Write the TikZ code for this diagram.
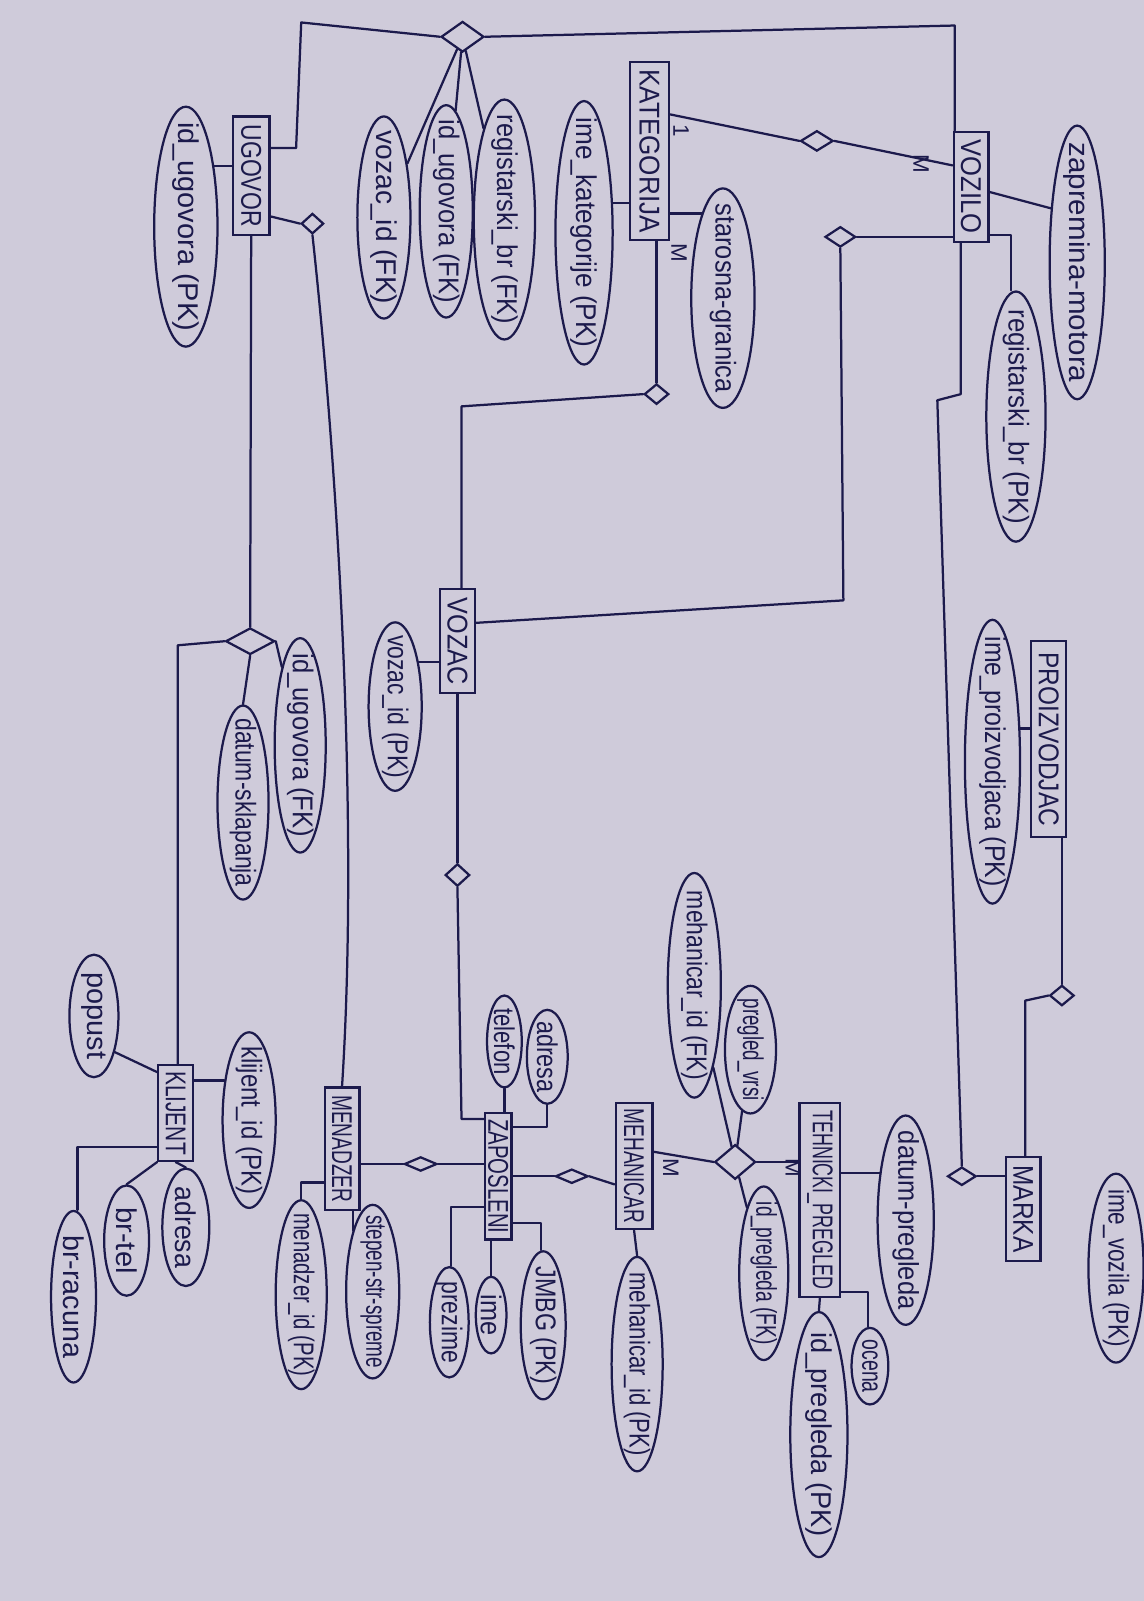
\documentclass[tikz,border=0pt]{standalone}
\usepackage{fontspec}
\setmainfont{Liberation Sans}
\usetikzlibrary{shapes.geometric}
\definecolor{paper}{HTML}{CFCBDA}
\definecolor{ink}{HTML}{1C1A4C}
\newcommand{\vt}[2]{\makebox[0pt]{\rotatebox{-90}{\makebox[0pt]{\resizebox{#1pt}{\height}{#2}}}}}
\newcommand{\vtn}[1]{\makebox[0pt]{\rotatebox{-90}{\makebox[0pt]{#1}}}}
\tikzset{
  ent/.style={draw=ink, rectangle, line width=2.2pt, inner sep=0pt, text=ink, font=\fontsize{28}{30}\selectfont},
  attr/.style={draw=ink, ellipse, line width=2.2pt, inner sep=0pt, text=ink, font=\fontsize{28}{30}\selectfont},
  rel/.style={draw=ink, diamond, line width=2.2pt, inner sep=0pt},
  card/.style={text=ink, inner sep=0pt, font=\fontsize{22}{24}\selectfont},
  conn/.style={draw=ink, line width=2.2pt, line join=round, line cap=round}
}
\begin{document}
\begin{tikzpicture}[x=1pt,y=-1pt]
\fill[paper] (0,0) rectangle (1120,1568);
\useasboundingbox (0,0) rectangle (1120,1568);

% entities
\node[ent, minimum width=36, minimum height=116] (ugovor) at (246,172) {\vt{100}{UGOVOR}};
\node[ent, minimum width=38, minimum height=174] (kategorija) at (636,148) {\vt{160}{KATEGORIJA}};
\node[ent, minimum width=34, minimum height=108] (vozilo) at (951,183) {\vt{92}{VOZILO}};
\node[ent, minimum width=34, minimum height=102] (vozac) at (448,628) {\vt{85}{VOZAC}};
\node[ent, minimum width=26, minimum height=124] (zaposleni) at (488,1152) {\vt{112}{ZAPOSLENI}};
\node[ent, minimum width=34, minimum height=120] (menadzer) at (335,1125) {\vt{105}{MENADZER}};
\node[ent, minimum width=34, minimum height=94] (klijent) at (172,1090) {\vt{82}{KLIJENT}};
\node[ent, minimum width=36, minimum height=124] (mehanicar) at (621,1142) {\vt{112}{MEHANICAR}};
\node[ent, minimum width=40, minimum height=190] (tehnicki) at (803,1175) {\vt{175}{TEHNICKI\_PREGLED}};
\node[ent, minimum width=34, minimum height=192] (proizv) at (1027,724) {\vt{170}{PROIZVODJAC}};
\node[ent, minimum width=34, minimum height=102] (marka) at (1002,1184) {\vt{85}{MARKA}};

% attributes
\node[attr, minimum width=62, minimum height=235] (a_idug_pk) at (182,222) {\vt{205}{id\_ugovora (PK)}};
\node[attr, minimum width=52, minimum height=198] (a_vozid_fk) at (376,213) {\vt{170}{vozac\_id (FK)}};
\node[attr, minimum width=52, minimum height=208] (a_idug_fk) at (437,207) {\vt{180}{id\_ugovora (FK)}};
\node[attr, minimum width=60, minimum height=235] (a_regbr_fk) at (494,215) {\vt{205}{registarski\_br (FK)}};
\node[attr, minimum width=56, minimum height=258] (a_imekat) at (572,228) {\vt{225}{ime\_kategorije (PK)}};
\node[attr, minimum width=62, minimum height=215] (a_starosna) at (708,292) {\vt{185}{starosna-granica}};
\node[attr, minimum width=54, minimum height=268] (a_zapremina) at (1055,257) {\vt{235}{zapremina-motora}};
\node[attr, minimum width=58, minimum height=245] (a_regbr_pk) at (995,408) {\vt{210}{registarski\_br (PK)}};
\node[attr, minimum width=54, minimum height=278] (a_imeproiz) at (972,746) {\vt{245}{ime\_proizvodjaca (PK)}};
\node[attr, minimum width=52, minimum height=165] (a_vozid_pk) at (387,692) {\vt{140}{vozac\_id (PK)}};
\node[attr, minimum width=50, minimum height=210] (a_idug_fk2) at (294,730) {\vt{180}{id\_ugovora (FK)}};
\node[attr, minimum width=50, minimum height=190] (a_datsk) at (238,786) {\vt{165}{datum-sklapanja}};
\node[attr, minimum width=48, minimum height=120] (a_popust) at (92,995) {\vt{85}{popust}};
\node[attr, minimum width=52, minimum height=172] (a_klijid) at (244,1097) {\vt{145}{klijent\_id (PK)}};
\node[attr, minimum width=46, minimum height=115] (a_adresa_k) at (182,1202) {\vt{80}{adresa}};
\node[attr, minimum width=44, minimum height=108] (a_brtel) at (124,1215) {\vt{65}{br-tel}};
\node[attr, minimum width=44, minimum height=168] (a_brrac) at (72,1270) {\vt{120}{br-racuna}};
\node[attr, minimum width=50, minimum height=185] (a_menid) at (295,1268) {\vt{160}{menadzer\_id (PK)}};
\node[attr, minimum width=52, minimum height=170] (a_stepen) at (365,1265) {\vt{150}{stepen-str-spreme}};
\node[attr, minimum width=34, minimum height=90] (a_telefon) at (494,1020) {\vt{65}{telefon}};
\node[attr, minimum width=40, minimum height=92] (a_adresa_z) at (536,1035) {\vt{70}{adresa}};
\node[attr, minimum width=44, minimum height=145] (a_jmbg) at (532,1298) {\vt{115}{JMBG (PK)}};
\node[attr, minimum width=30, minimum height=75] (a_ime) at (481,1288) {\vt{40}{ime}};
\node[attr, minimum width=38, minimum height=108] (a_prezime) at (440,1295) {\vt{80}{prezime}};
\node[attr, minimum width=50, minimum height=210] (a_mehid_pk) at (624,1336) {\vt{180}{mehanicar\_id (PK)}};
\node[attr, minimum width=52, minimum height=220] (a_mehid_fk) at (680,965) {\vt{185}{mehanicar\_id (FK)}};
\node[attr, minimum width=50, minimum height=125] (a_pregvrsi) at (735,1028) {\vt{100}{pregled\_vrsi}};
\node[attr, minimum width=48, minimum height=170] (a_idpr_fk) at (748,1247) {\vt{140}{id\_pregleda (FK)}};
\node[attr, minimum width=55, minimum height=205] (a_datpr) at (887,1195) {\vt{175}{datum-pregleda}};
\node[attr, minimum width=36, minimum height=75] (a_ocena) at (852,1338) {\vt{52}{ocena}};
\node[attr, minimum width=56, minimum height=240] (a_idpr_pk) at (802,1405) {\vt{200}{id\_pregleda (PK)}};
\node[attr, minimum width=54, minimum height=185] (a_imevoz) at (1093,1242) {\vt{155}{ime\_vozila (PK)}};

% relationships
\node[rel, minimum width=42, minimum height=30] (dtop) at (453,36) {};
\node[rel, minimum width=22, minimum height=20] (dug) at (306,219) {};
\node[rel, minimum width=32, minimum height=20] (dkv) at (800,138) {};
\node[rel, minimum width=24, minimum height=20] (dkz) at (643,386) {};
\node[rel, minimum width=30, minimum height=20] (dvv) at (823,232) {};
\node[rel, minimum width=48, minimum height=26] (dkl) at (245,628) {};
\node[rel, minimum width=24, minimum height=22] (dvz) at (448,857) {};
\node[rel, minimum width=32, minimum height=14] (dzm) at (412,1140) {};
\node[rel, minimum width=32, minimum height=14] (dzme) at (560,1152) {};
\node[rel, minimum width=40, minimum height=34] (dmt) at (720,1138) {};
\node[rel, minimum width=24, minimum height=20] (dpm) at (1040,975) {};
\node[rel, minimum width=28, minimum height=18] (dmv) at (942,1152) {};

% cardinalities
\node[card] (c1) at (667,128) {\vtn{1}};
\node[card] (c2) at (665,248) {\vtn{M}};
\node[card] (c3) at (902,160) {\vtn{M}};
\node[card] (c4) at (657,1144) {\vtn{M}};
\node[card] (c5) at (777,1144) {\vtn{M}};

% bend points
\coordinate (b1) at (295,22);
\coordinate (b2) at (290,145);
\coordinate (b3) at (935,25);
\coordinate (b4) at (290,212);
\coordinate (b5) at (174,632);
\coordinate (b7) at (0,112);
\coordinate (b8) at (0,162);
\coordinate (b9) at (452,398);
\coordinate (b10) at (0,232);
\coordinate (b11) at (826,588);
\coordinate (b12) at (0,610);
\coordinate (b13) at (0,188);
\coordinate (b14) at (990,230);
\coordinate (b15) at (941,386);
\coordinate (b16) at (918,392);
\coordinate (b18) at (1004,980);
\coordinate (b19) at (452,1096);
\coordinate (b20) at (536,1104);
\coordinate (b21) at (530,1198);
\coordinate (b22) at (442,1182);
\coordinate (b25) at (0,1160);
\coordinate (b27) at (295,1158);
\coordinate (b28) at (0,1050);
\coordinate (b30) at (76,1123);
\coordinate (b31) at (0,1128);
\coordinate (b32) at (850,1265);

% connectors
\draw[conn] (dtop.west) -- (b1) -- (b2) -- (ugovor.east |- b2);
\draw[conn] (dtop.east) -- (b3) -- (b3 |- vozilo.north);
\draw[conn] (dtop) -- (a_vozid_fk);
\draw[conn] (dtop) -- (a_idug_fk);
\draw[conn] (dtop) -- (a_regbr_fk);
\draw[conn] (a_idug_pk.65) -- (a_idug_pk.65 -| ugovor.west);
\draw[conn] (ugovor.east |- b4) -- (dug.west);
\draw[conn] (dug.south) .. controls (330,450) and (352,800) .. (menadzer.north);
\draw[conn] (ugovor.south) -- (dkl.north);
\draw[conn] (dkl.west) -- (b5) -- (b5 |- klijent.north);
\draw[conn] (dkl.east) -- (a_idug_fk2);
\draw[conn] (dkl.south) -- (a_datsk.north);

\draw[conn] (kategorija.east |- b7) -- (dkv.west);
\draw[conn] (dkv.east) -- (vozilo.west |- b8);
\draw[conn] (a_imekat.46) -- (a_imekat.46 -| kategorija.west);
\draw[conn] (a_starosna.104) -- (a_starosna.104 -| kategorija.east);
\draw[conn] (kategorija.south -| dkz.north) -- (dkz.north);
\draw[conn] (dkz.west) -- (b9) -- (b9 |- vozac.north);

\draw[conn] (vozilo.west |- b10) -- (dvv.east);
\draw[conn] (dvv.south) -- (b11) -- (vozac.east |- b12);
\draw[conn] (vozilo.east |- b13) -- (a_zapremina.116);
\draw[conn] (vozilo.east |- b14) -- (b14) -- (b14 |- a_regbr_pk.north);
\draw[conn] (vozilo.south -| b15) -- (b15) -- (b16) -- (dmv.north);
\draw[conn] (dmv.east) -- (marka.west |- dmv.east);
\draw[conn] (proizv.south -| dpm.north) -- (dpm.north);
\draw[conn] (dpm.west) -- (b18) -- (b18 |- marka.north);
\draw[conn] (a_imeproiz.50) -- (a_imeproiz.50 -| proizv.west);

\draw[conn] (a_vozid_pk.62) -- (a_vozid_pk.62 -| vozac.west);
\draw[conn] (vozac.south) -- (dvz.north);
\draw[conn] (dvz.south) -- (b19) -- (b19 -| zaposleni.west);

\draw[conn] (a_telefon.south) -- (a_telefon.south |- zaposleni.north);
\draw[conn] (a_adresa_z.south) -- (b20) -- (b20 -| zaposleni.east);
\draw[conn] (zaposleni.east |- b21) -- (b21) -- (b21 |- a_jmbg.north);
\draw[conn] (zaposleni.south -| a_ime.north) -- (a_ime.north);
\draw[conn] (zaposleni.west |- b22) -- (b22) -- (b22 |- a_prezime.north);
\draw[conn] (menadzer.east |- dzm.west) -- (dzm.west);
\draw[conn] (dzm.east) -- (zaposleni.west |- dzm.east);
\draw[conn] (zaposleni.east |- dzme.west) -- (dzme.west);
\draw[conn] (dzme.east) -- (mehanicar.west |- b25);

\draw[conn] (a_stepen.108) -- (a_stepen.108 |- menadzer.south);
\draw[conn] (menadzer.west |- b27) -- (b27) -- (b27 |- a_menid.north);

\draw[conn] (a_popust.-60) -- (klijent.west |- b28);
\draw[conn] (a_klijid.122) -- (a_klijid.122 -| klijent.east);
\draw[conn] (klijent.south) -- (a_adresa_k.north);
\draw[conn] (klijent.south west) -- (a_brtel.north);
\draw[conn] (klijent.west |- b30) -- (b30) -- (b30 |- a_brrac.north);

\draw[conn] (mehanicar.east |- b31) -- (dmt.west);
\draw[conn] (dmt.east) -- (tehnicki.west |- dmt.east);
\draw[conn] (mehanicar.south) -- (a_mehid_pk.north);
\draw[conn] (dmt) -- (a_mehid_fk);
\draw[conn] (dmt) -- (a_pregvrsi);
\draw[conn] (dmt) -- (a_idpr_fk);
\draw[conn] (a_datpr.119) -- (a_datpr.119 -| tehnicki.east);
\draw[conn] (tehnicki.east |- b32) -- (b32) -- (b32 |- a_ocena.north);
\draw[conn] (tehnicki.south) -- (a_idpr_pk.north);
\end{tikzpicture}
\end{document}
